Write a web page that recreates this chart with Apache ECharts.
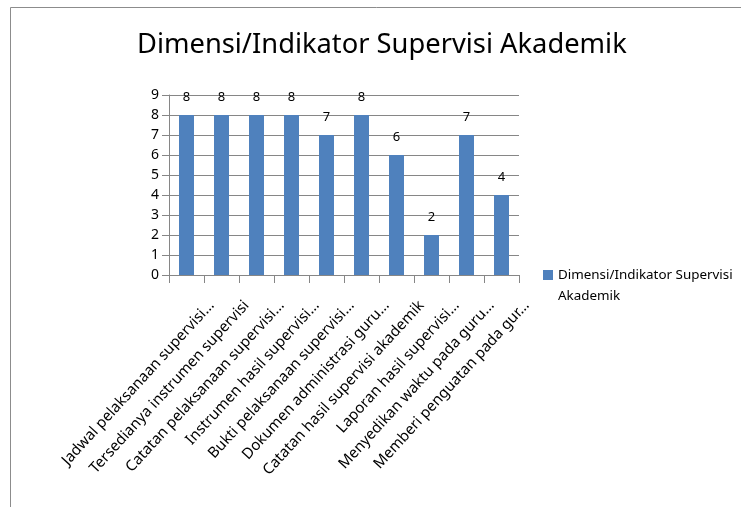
<!DOCTYPE html>
<html>
<head>
<meta charset="utf-8">
<script src="https://cdn.jsdelivr.net/npm/echarts@6/dist/echarts.min.js"></script>
<style>
html,body{margin:0;padding:0;background:#fff;}
#c{width:741px;height:507px;}
</style>
</head>
<body>
<div id="c"></div>
<script>
const titleText = "Dimensi/Indikator Supervisi Akademik";
const seriesName = "Dimensi/Indikator Supervisi Akademik";
const legendLines = ["Dimensi/Indikator Supervisi", "Akademik"];
const categories = [
  "Jadwal pelaksanaan supervisi…",
  "Tersedianya instrumen supervisi",
  "Catatan pelaksanaan supervisi…",
  "Instrumen hasil supervisi…",
  "Bukti pelaksanaan supervisi…",
  "Dokumen administrasi guru…",
  "Catatan hasil supervisi akademik",
  "Laporan hasil supervisi…",
  "Menyedikan waktu pada guru…",
  "Memberi penguatan pada gur…"
];
const values = [8, 8, 8, 8, 7, 8, 6, 2, 7, 4];
const yMin = 0, yMax = 9, yStep = 1;

const FONT = "Noto Sans";
const chart = echarts.init(document.getElementById('c'), null, {renderer: 'canvas'});
chart.setOption({
  animation: false,
  backgroundColor: '#ffffff',
  textStyle: {fontFamily: FONT},
  graphic: [{
    type: 'rect', silent: true,
    shape: {x: 10.5, y: 7.5, width: 800, height: 600},
    style: {fill: 'none', stroke: '#8c8c8c', lineWidth: 1}
  }],
  title: {
    text: titleText,
    left: 137, top: 32,
    padding: 0,
    textStyle: {fontFamily: FONT, fontSize: 27.3, fontWeight: 'normal', color: '#000'}
  },
  legend: {
    left: 543, top: 247.5, padding: 0,
    itemWidth: 10, itemHeight: 10,
    icon: 'rect',
    formatter: function () {
      return '{s| }\n' + legendLines.map(function (l) { return '{t|' + l + '}'; }).join('\n');
    },
    textStyle: {
      fontFamily: FONT, fontSize: 13.4, color: '#000',
      rich: {
        s: {fontSize: 13.4, lineHeight: 21, fontFamily: FONT},
        t: {fontSize: 13.4, lineHeight: 21, fontFamily: FONT, color: '#000'}
      }
    },
    data: [seriesName]
  },
  grid: {left: 169, right: 222, top: 95, bottom: 232},
  xAxis: {
    type: 'category',
    data: categories,
    axisLine: {lineStyle: {color: '#868686', width: 1}},
    axisTick: {show: true, length: 8, alignWithLabel: false, lineStyle: {color: '#868686'}},
    axisLabel: {
      interval: 0, rotate: 47.5, margin: 5,
      fontFamily: FONT, fontSize: 15, color: '#000',
      formatter: function (v) { return '{s| }\n{t|' + v + '}'; },
      rich: {
        s: {fontSize: 15, lineHeight: 68, fontFamily: FONT},
        t: {fontSize: 15, lineHeight: 20, fontFamily: FONT, color: '#000'}
      }
    }
  },
  yAxis: {
    type: 'value',
    min: yMin, max: yMax, interval: yStep,
    axisLine: {show: true, lineStyle: {color: '#868686', width: 1}},
    axisTick: {show: true, length: 7, lineStyle: {color: '#868686'}},
    splitLine: {show: true, lineStyle: {color: '#868686', width: 1}},
    axisLabel: {margin: 10, fontFamily: FONT, fontSize: 14, color: '#000'}
  },
  series: [{
    name: seriesName,
    type: 'bar',
    data: values,
    barWidth: 15,
    itemStyle: {color: '#4f81bd'},
    label: {show: true, position: 'top', distance: 11, fontFamily: FONT, fontSize: 13, color: '#000'}
  }]
});
</script>
</body>
</html>
